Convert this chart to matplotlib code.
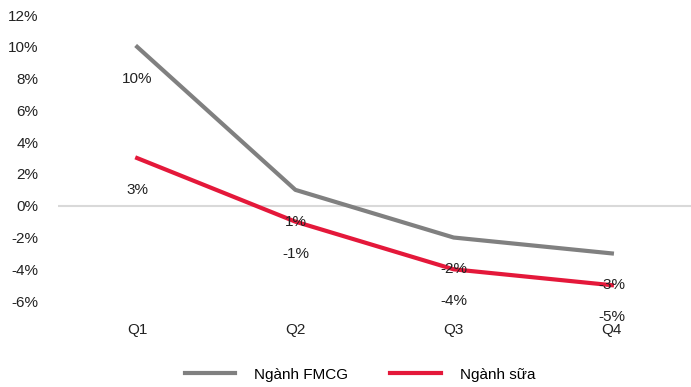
import matplotlib
matplotlib.use("Agg")
import matplotlib.pyplot as plt
from matplotlib import font_manager

# quarterly growth, in percent
quarters = ["Q1", "Q2", "Q3", "Q4"]
fmcg = [10, 1, -2, -3]
sua = [3, -1, -4, -5]
yticks = [-6, -4, -2, 0, 2, 4, 6, 8, 10, 12]

names = {f.name for f in font_manager.fontManager.ttflist}
fam = "Liberation Sans Narrow" if "Liberation Sans Narrow" in names else "Liberation Sans"
plt.rcParams["font.family"] = [fam, "DejaVu Sans"]
plt.rcParams["font.size"] = 11

GRAY = "#808080"
RED = "#E4183A"

fig = plt.figure(figsize=(6.91, 3.87), dpi=100)
ax = fig.add_axes([0.084, 0.222, 0.916, 0.739])

x = list(range(len(quarters)))
ax.axhline(0, color="#d9d9d9", lw=1.5, zorder=1)
ax.plot(x, fmcg, color=GRAY, lw=3, label="Ngành FMCG", zorder=3)
ax.plot(x, sua, color=RED, lw=3, label="Ngành sữa", zorder=3)

for xs, vals in ((x, fmcg), (x, sua)):
    for xi, v in zip(xs, vals):
        ax.annotate(f"{v}%", (xi, v), xytext=(0, -23), textcoords="offset points",
                    ha="center", va="center", fontsize=11, color="#222222", zorder=4)

ax.set_xlim(-0.5, 3.5)
ax.set_ylim(-6, 12)
ax.set_yticks(yticks)
ax.set_yticklabels([f"{t}%" for t in yticks])
ax.set_xticks(x)
ax.set_xticklabels(quarters)
ax.tick_params(axis="both", length=0, labelsize=11, colors="#222222")
ax.tick_params(axis="y", pad=14)
ax.tick_params(axis="x", pad=16)
for s in ax.spines.values():
    s.set_visible(False)

fig.legend(loc="lower center", bbox_to_anchor=(0.521, -0.022), ncol=2, frameon=False,
           fontsize=11, handlelength=3.3, columnspacing=2.75, handletextpad=1.25)

fig.savefig("out.png", dpi=100)
